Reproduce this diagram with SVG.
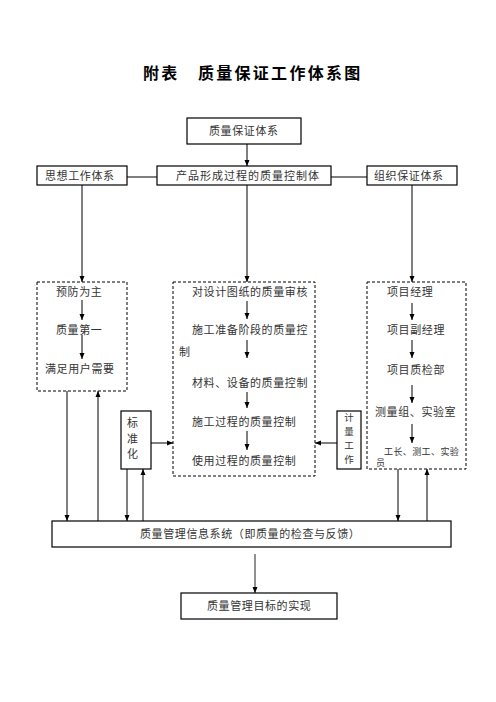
<svg xmlns="http://www.w3.org/2000/svg" width="496" height="702" viewBox="0 0 496 702">
<style>
text{font-family:"Noto Sans CJK SC","Noto Sans CJK JP",sans-serif;fill:#333;font-size:11px;letter-spacing:0.6px}
.title{font-size:16px;font-weight:bold;fill:#000;letter-spacing:2.3px}
.box{fill:#fff;stroke:#000;stroke-width:1.2}
.dash{fill:none;stroke:#000;stroke-width:1;stroke-dasharray:3,2}
.c{fill:none;stroke:#000;stroke-width:1}
.sm{font-size:9px;letter-spacing:0.4px}
.v{font-size:9.5px;letter-spacing:0}
</style>
<defs>
<marker id="ah" markerWidth="6" markerHeight="6" refX="6" refY="3" orient="auto" markerUnits="userSpaceOnUse"><path d="M0,0.5 L6,3 L0,5.5 z" fill="#000"/></marker>
</defs>
<rect width="496" height="702" fill="#fff"/>
<text class="title" x="143" y="79">附表　质量保证工作体系图</text>

<g id="connectors">
<path class="c" d="M247,144 V166" marker-end="url(#ah)"/>
<path class="c" d="M82,177 H412"/>
<path class="c" d="M82,177 V166" marker-end="url(#ah)"/>
<path class="c" d="M412,177 V166" marker-end="url(#ah)"/>
<path class="c" d="M82,185 V282" marker-end="url(#ah)"/>
<path class="c" d="M247,185 V282" marker-end="url(#ah)"/>
<path class="c" d="M412,185 V282" marker-end="url(#ah)"/>
<path class="c" d="M82,300 V320" marker-end="url(#ah)"/>
<path class="c" d="M82,335 V359" marker-end="url(#ah)"/>
<path class="c" d="M247,301 V319" marker-end="url(#ah)"/>
<path class="c" d="M247,340 V358" marker-end="url(#ah)"/>
<path class="c" d="M247,392 V408" marker-end="url(#ah)"/>
<path class="c" d="M247,431 V450" marker-end="url(#ah)"/>
<path class="c" d="M412,303 V320" marker-end="url(#ah)"/>
<path class="c" d="M412,340 V358" marker-end="url(#ah)"/>
<path class="c" d="M412,385 V403" marker-end="url(#ah)"/>
<path class="c" d="M412,424 V443" marker-end="url(#ah)"/>
<path class="c" d="M151,443 H173" marker-end="url(#ah)"/>
<path class="c" d="M337,443 H315" marker-end="url(#ah)"/>
<path class="c" d="M67,391 V521" marker-end="url(#ah)"/>
<path class="c" d="M98,521 V391" marker-end="url(#ah)"/>
<path class="c" d="M127,469 V521" marker-end="url(#ah)"/>
<path class="c" d="M143,521 V469" marker-end="url(#ah)"/>
<path class="c" d="M398,469 V521" marker-end="url(#ah)"/>
<path class="c" d="M427,521 V469" marker-end="url(#ah)"/>
<path d="M255,554 V593" stroke="#555" stroke-width="1.3" fill="none" marker-end="url(#ah)"/>
</g>

<g id="top"><rect class="box" x="187" y="118" width="114" height="26"/><text x="209" y="135">质量保证体系</text></g>
<g id="thought"><rect class="box" x="37" y="166" width="90" height="19"/><text x="45" y="180">思想工作体系</text></g>
<g id="product"><rect class="box" x="157" y="166" width="174" height="19"/><text x="176" y="180" style="letter-spacing:1px">产品形成过程的质量控制体</text></g>
<g id="org"><rect class="box" x="367" y="166" width="90" height="19"/><text x="374" y="180">组织保证体系</text></g>

<g id="thought-detail">
<rect class="dash" x="37" y="282" width="90" height="109"/>
<text x="56" y="296">预防为主</text>
<text x="56" y="334">质量第一</text>
<text x="45" y="373">满足用户需要</text>
</g>

<g id="product-detail">
<rect class="dash" x="173" y="282" width="142" height="194"/>
<text x="192" y="296">对设计图纸的质量审核</text>
<text x="192" y="334">施工准备阶段的质量控</text>
<text x="179" y="356">制</text>
<text x="192" y="387">材料、设备的质量控制</text>
<text x="192" y="426">施工过程的质量控制</text>
<text x="192" y="465">使用过程的质量控制</text>
</g>

<g id="org-detail">
<rect class="dash" x="367" y="282" width="99" height="187"/>
<text x="387" y="296">项目经理</text>
<text x="387" y="334">项目副经理</text>
<text x="387" y="374">项目质检部</text>
<text x="375" y="416">测量组、实验室</text>
<text class="sm" x="384" y="455">工长、测工、实验</text>
<text class="sm" x="376" y="466">员</text>
</g>

<g id="standard">
<rect class="box" x="121" y="411" width="30" height="58"/>
<text x="127" y="427">标</text>
<text x="127" y="443">准</text>
<text x="127" y="458">化</text>
</g>

<g id="metering">
<rect class="box" x="337" y="411" width="24" height="58"/>
<text class="v" x="349" y="421" text-anchor="middle">计</text>
<text class="v" x="349" y="435" text-anchor="middle">量</text>
<text class="v" x="349" y="449" text-anchor="middle">工</text>
<text class="v" x="349" y="463" text-anchor="middle">作</text>
</g>

<g id="info"><rect class="box" x="52" y="521" width="399" height="26"/><text x="140" y="538">质量管理信息系统（即质量的检查与反馈）</text></g>
<g id="goal"><rect class="box" x="181" y="593" width="156" height="26"/><text x="207" y="610">质量管理目标的实现</text></g>
</svg>
